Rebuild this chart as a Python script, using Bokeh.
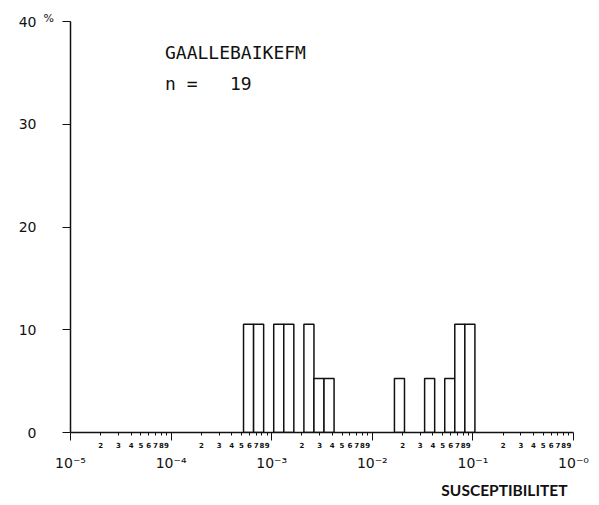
from bokeh.plotting import figure
from bokeh.models import Range1d, FixedTicker, LogAxis, Title, Label
from bokeh.core.properties import value
from bokeh.embed import file_html
from bokeh.resources import INLINE

# ---------------- data ----------------
n_samples = 19
bin_left_log = [-3.28, -3.18, -2.98, -2.88, -2.68, -2.58, -2.48,
                -1.78, -1.48, -1.28, -1.18, -1.08]
bin_counts = [2, 2, 2, 2, 2, 1, 1, 1, 1, 1, 2, 2]
bin_width_log = 0.1

decade_exponents = [-5, -4, -3, -2, -1, 0]
decade_labels = ["10⁻⁵", "10⁻⁴", "10⁻³", "10⁻²", "10⁻¹", "10⁻⁰"]
minor_digits = [2, 3, 4, 5, 6, 7, 8, 9]

y_ticks = [0, 10, 20, 30, 40]
y_tick_labels = ["0", "10", "20", "30", "40"]
y_unit = "%"

title_text = "GAALLEBAIKEFM"
n_text = "n\u00a0=\u00a0\u00a0\u00a019"
x_title = "SUSCEPTIBILITET"

# ---------------- derived ----------------
pct = [c / n_samples * 100 for c in bin_counts]
lefts = [10 ** l for l in bin_left_log]
rights = [10 ** (l + bin_width_log) for l in bin_left_log]

decade_pos = [10.0 ** e for e in decade_exponents]
minor_pos = []
minor_lab = {}
for e in decade_exponents[:-1]:
    for d in minor_digits:
        v = d * 10.0 ** e
        minor_pos.append(v)
        minor_lab[v] = str(d)

p = figure(width=595, height=503, x_axis_type="log",
           x_range=Range1d(1e-5, 1), y_range=Range1d(0, 40),
           output_backend="svg", toolbar_location=None,
           min_border_left=70, min_border_right=22,
           min_border_top=21, min_border_bottom=70)
p.outline_line_color = None
p.xgrid.grid_line_color = None
p.ygrid.grid_line_color = None
p.background_fill_color = "white"
p.border_fill_color = "white"

p.quad(left=lefts, right=rights, bottom=0, top=pct,
       fill_color="white", line_color="#111111", line_width=1.5)

# x axis A: minor digits
xa = p.xaxis[0]
xa.ticker = FixedTicker(ticks=minor_pos, minor_ticks=decade_pos)
xa.major_label_overrides = minor_lab
xa.major_tick_out = 3
xa.major_tick_in = 0
xa.minor_tick_out = 8
xa.minor_tick_in = 0
xa.major_tick_line_color = "#111111"
xa.minor_tick_line_color = "#111111"
xa.axis_line_width = 1.5
xa.axis_line_color = "#111111"
xa.major_label_standoff = 1
xa.major_label_text_font = "DejaVu Sans"
xa.major_label_text_font_style = "bold"
xa.major_label_text_font_size = "7px"
xa.major_label_text_color = "#111111"

# x axis B: decade labels
xb = LogAxis(ticker=FixedTicker(ticks=decade_pos),
             major_label_overrides=dict(zip(decade_pos, decade_labels)),
             major_tick_out=0, major_tick_in=0, minor_tick_out=0, minor_tick_in=0,
             axis_line_color=None, major_label_standoff=4,
             major_label_text_font="DejaVu Sans",
             major_label_text_font_size="14px",
             major_label_text_color="#111111")
p.add_layout(xb, "below")

p.add_layout(Title(text=x_title, align="right", text_font="Lato",
                   text_font_style="bold", text_font_size="15.5px",
                   text_color="#111111", offset=6), "below")

# y axis
ya = p.yaxis[0]
ya.ticker = FixedTicker(ticks=y_ticks)
ya.major_label_overrides = dict(zip(y_ticks, y_tick_labels))
ya.major_tick_out = 8
ya.major_tick_in = 0
ya.minor_tick_out = 0
ya.minor_tick_in = 0
ya.axis_line_width = 1.5
ya.axis_line_color = "#111111"
ya.major_tick_line_color = "#111111"
ya.major_label_standoff = 26
ya.major_label_text_font = "DejaVu Sans"
ya.major_label_text_font_size = "14px"
ya.major_label_text_color = "#111111"

p.add_layout(Label(x=decade_pos[0], y=y_ticks[-1], x_units="data", y_units="data",
                   x_offset=-27, y_offset=3,
                   text=y_unit, text_font="DejaVu Sans",
                   text_font_size="11px", text_baseline="middle",
                   text_color="#111111"), "left")

p.text(x=[8.7e-5], y=[37], text=[title_text],
       text_font=value("DejaVu Sans Mono"), text_font_size="18px",
       text_baseline="alphabetic", text_color="#111111")
p.text(x=[8.7e-5], y=[34], text=[n_text],
       text_font=value("DejaVu Sans Mono"), text_font_size="18px",
       text_baseline="alphabetic", text_color="#111111")

open("out.html", "w").write(file_html(p, INLINE))
